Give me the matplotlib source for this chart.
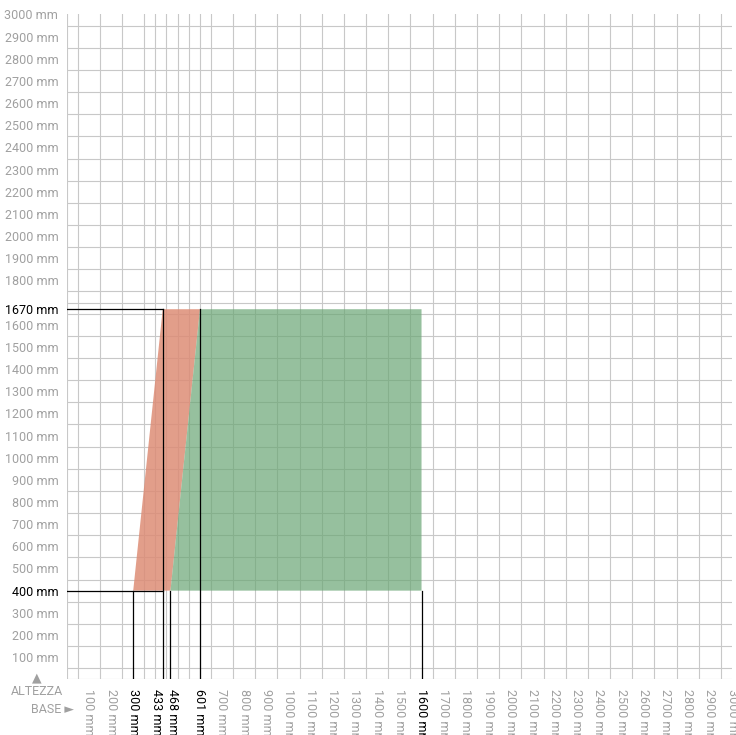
"""Base / height range diagram on a millimetre grid"""
import matplotlib.pyplot as plt
from matplotlib.ticker import MultipleLocator
from matplotlib.transforms import ScaledTranslation

plt.rcParams['font.family'] = ['Roboto', 'DejaVu Sans']

# dimensions (mm)
h_min, h_max = 400, 1670
red_base = [300, 433, 601, 468]
red_height = [h_min, h_max, h_max, h_min]
green_base = [468, 601, 1600, 1600]
green_height = [h_min, h_max, h_max, h_min]

# reference lines
hlines = [(h_max, 0, 433), (h_min, 0, 433)]
vlines = [(300, 0, h_min), (433, 0, h_max), (468, 0, h_min),
          (601, 0, h_max), (1600, 0, h_min)]

x_ticks = [100, 200, 300, 433, 468, 601] + list(range(700, 3001, 100))
x_dark = [300, 433, 468, 601, 1600]
y_ticks = [v for v in range(100, 3001, 100) if v != 1700] + [1670]
y_ticks = sorted(y_ticks)
y_dark = [400, 1670]

GRAY = '#a0a0a0'
FS = 9

fig = plt.figure(figsize=(7.36, 7.35), dpi=100)
ax = fig.add_axes([0.0906, 0.0758, 0.9040, 0.9045])

ax.set_xlim(0, 3000)
ax.set_ylim(0, 3000)

ax.xaxis.set_minor_locator(MultipleLocator(50))
ax.yaxis.set_minor_locator(MultipleLocator(50))
ax.grid(which='minor', color='#c8c8c8', linewidth=0.8, zorder=0)
ax.set_axisbelow(True)

ax.fill(red_base, red_height, color='#dd8d76', alpha=0.85, lw=0, zorder=2)
ax.fill(green_base, green_height, color='#6aa675', alpha=0.7, lw=0, zorder=3)

for y, x0, x1 in hlines:
    ax.plot([x0, x1], [y, y], color='black', lw=0.9, zorder=4)
for x, y0, y1 in vlines:
    ax.plot([x, x], [y0, y1], color='black', lw=0.9, zorder=4)

ax.tick_params(which='both', length=0)
ax.tick_params(axis='x', pad=7)
ax.tick_params(axis='y', pad=6)

ax.set_xticks(x_ticks)
ax.set_xticklabels([f'{v} mm' for v in x_ticks], rotation=270, fontsize=FS,
                   va='top', ha='center')
ax.set_yticks(y_ticks)
ax.set_yticklabels([f'{v} mm' for v in y_ticks], fontsize=FS)

# nudge the two close labels apart (points)
nudge = {433: -4.5, 468: 1.5}
for lbl, v in zip(ax.get_xticklabels(), x_ticks):
    lbl.set_color('black' if v in x_dark else GRAY)
    if v in nudge:
        lbl.set_transform(lbl.get_transform() +
                          ScaledTranslation(nudge[v] / 72, 0, fig.dpi_scale_trans))
for lbl, v in zip(ax.get_yticklabels(), y_ticks):
    lbl.set_color('black' if v in y_dark else GRAY)
for s in ax.spines.values():
    s.set_visible(False)

fig.text(0.050, 0.077, '▲', color=GRAY, fontsize=9, ha='center', va='center',
         family='DejaVu Sans')
fig.text(0.050, 0.059, 'ALTEZZA', color=GRAY, fontsize=FS, ha='center', va='center')
fig.text(0.101, 0.035, 'BASE ►', color=GRAY, fontsize=FS, ha='right', va='center',
         family=['Roboto', 'DejaVu Sans'])

fig.savefig('out.png', dpi=100)
